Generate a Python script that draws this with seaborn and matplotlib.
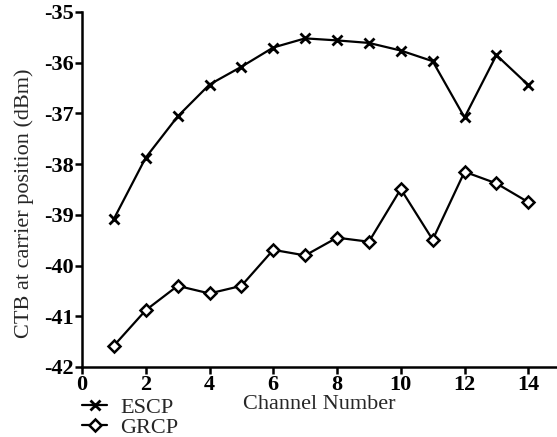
import matplotlib
matplotlib.use("Agg")
import matplotlib.pyplot as plt
import seaborn as sns
import pandas as pd

# data
channels = [1, 2, 3, 4, 5, 6, 7, 8, 9, 10, 11, 12, 13, 14]
escp = [-39.08, -37.87, -37.06, -36.43, -36.08, -35.70, -35.52, -35.56,
        -35.61, -35.76, -35.97, -37.08, -35.85, -36.44]
grcp = [-41.58, -40.88, -40.40, -40.55, -40.40, -39.69, -39.80, -39.45,
        -39.53, -38.49, -39.49, -38.15, -38.38, -38.75]
series_names = ["ESCP", "GRCP"]

sns.set_style("ticks")
plt.rcParams["font.family"] = ["Liberation Serif", "DejaVu Serif"]
plt.rcParams["axes.unicode_minus"] = False

fig = plt.figure(figsize=(5.57, 4.37), dpi=100)
ax = fig.add_axes([82 / 557, 70 / 437, 475 / 557, 355 / 437])

# ESCP: x markers
sns.lineplot(x=channels, y=escp, color="black", marker="x", linewidth=1.6,
             markersize=7, markeredgewidth=2.0, markeredgecolor="black",
             ax=ax, label=series_names[0])
# GRCP: hollow diamonds
sns.lineplot(x=channels, y=grcp, color="black", marker="D", linewidth=1.6,
             markersize=6.5, markeredgewidth=1.8, markerfacecolor="white",
             markeredgecolor="black", ax=ax, label=series_names[1])

ax.set_xlim(0, 14.9)
ax.set_ylim(-42, -35)
ax.set_xticks(range(0, 15, 2))
ax.set_yticks(range(-42, -34))
ax.set_xlabel("Channel Number", fontsize=16, labelpad=0)
ax.set_ylabel("CTB at carrier position (dBm)", fontsize=16)
ax.yaxis.set_label_coords(-0.102, 0.46)
ax.tick_params(axis="both", labelsize=16, width=1.8, length=5, direction="out",
               color="black", labelcolor="black", pad=1)
for lbl in ax.get_xticklabels() + ax.get_yticklabels():
    lbl.set_fontweight("bold")
for s in ["left", "bottom"]:
    ax.spines[s].set_linewidth(1.8)
    ax.spines[s].set_color("black")
sns.despine(ax=ax)

handles, labels = ax.get_legend_handles_labels()
ax.get_legend().remove()
fig.legend(handles, labels, loc="upper left",
           bbox_to_anchor=(82 / 557, 1 - 397 / 437), frameon=False,
           fontsize=16, handlelength=1.13, handletextpad=0.58,
           labelspacing=0.0, borderpad=0.0, borderaxespad=0.0)

fig.savefig("out.png", dpi=100)
